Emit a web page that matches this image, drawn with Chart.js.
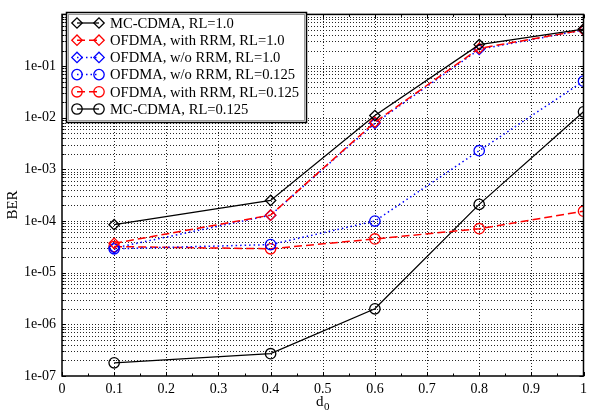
<!DOCTYPE html>
<html><head><meta charset="utf-8">
<script src="https://cdn.jsdelivr.net/npm/chart.js@4.4.1/dist/chart.umd.min.js"></script>
<style>html,body{margin:0;padding:0;background:#fff}</style>
</head><body>
<canvas id="c" width="592" height="412" style="width:592px;height:412px;display:block"></canvas>
<script>
// ---- data ----
const xValues = [0.1, 0.4, 0.6, 0.8, 1.0];
const mcCdmaRL1 = [8.5e-5, 2.5e-4, 1.1e-2, 0.26, 0.52];
const ofdmaRrmRL1 = [3.7e-5, 1.3e-4, 8.2e-3, 0.22, 0.5];
const ofdmaNoRrmRL1 = [3.0e-5, 1.3e-4, 7.8e-3, 0.21, 0.5];
const ofdmaNoRrmRL0125 = [2.9e-5, 3.5e-5, 1.0e-4, 2.3e-3, 0.051];
const ofdmaRrmRL0125 = [3.2e-5, 2.9e-5, 4.5e-5, 7.1e-5, 1.55e-4];
const mcCdmaRL0125 = [1.8e-7, 2.7e-7, 2.0e-6, 2.1e-4, 1.3e-2];
const seriesLabels = ['MC-CDMA, RL=1.0', 'OFDMA, with RRM, RL=1.0', 'OFDMA, w/o RRM, RL=1.0',
  'OFDMA, w/o RRM, RL=0.125', 'OFDMA, with RRM, RL=0.125', 'MC-CDMA, RL=0.125'];
const xTickLabels = ['0', '0.1', '0.2', '0.3', '0.4', '0.5', '0.6', '0.7', '0.8', '0.9', '1'];
const yTickLabels = ['1e-07', '1e-06', '1e-05', '1e-04', '1e-03', '1e-02', '1e-01'];
const xAxisTitle = 'd';
const xAxisSub = '0';
const yAxisTitle = 'BER';

const FONT = '"Liberation Serif", "Times New Roman", serif';

const styles = [
  {color: '#000000', dash: [], point: 'rectRot', width: 1.3},
  {color: '#ff0000', dash: [8, 4], point: 'rectRot', width: 1.5},
  {color: '#0000ff', dash: [1.5, 3], point: 'rectRot', width: 1.5},
  {color: '#0000ff', dash: [1.5, 3], point: 'circle', width: 1.5},
  {color: '#ff0000', dash: [8, 4], point: 'circle', width: 1.5},
  {color: '#000000', dash: [], point: 'circle', width: 1.3}
];
const seriesData = [mcCdmaRL1, ofdmaRrmRL1, ofdmaNoRrmRL1, ofdmaNoRrmRL0125, ofdmaRrmRL0125, mcCdmaRL0125];

const datasets = seriesData.map((vals, i) => ({
  label: seriesLabels[i],
  data: vals.map((v, j) => ({x: xValues[j], y: v})),
  borderColor: styles[i].color,
  borderWidth: styles[i].width,
  borderDash: styles[i].dash,
  pointStyle: styles[i].point,
  pointRadius: 5.2,
  pointBorderColor: styles[i].color,
  pointBackgroundColor: 'rgba(0,0,0,0)',
  pointBorderWidth: 1.3,
  fill: false,
  tension: 0
}));

// log ticks: decades 1e-7 .. 1e0 with minors 2..9
const yTickValues = [];
for (let e = -7; e <= 0; e++) {
  for (let m = 1; m <= 9; m++) {
    if (e === 0 && m > 1) break;
    yTickValues.push(m * Math.pow(10, e));
  }
}
const xTickValues = [];
for (let i = 0; i <= 20; i++) xTickValues.push(+(i * 0.05).toFixed(2));

function isMajorX(v) { return Math.abs(v * 10 - Math.round(v * 10)) < 1e-6; }
function isDecade(v) { const l = Math.log10(v); return Math.abs(l - Math.round(l)) < 1e-6; }

const decor = {
  id: 'decor',
  beforeDatasetsDraw(chart) {
    const ctx = chart.ctx, a = chart.chartArea;
    const xs = chart.scales.x, ys = chart.scales.y;
    ctx.save();
    ctx.lineWidth = 1;
    ctx.strokeStyle = 'rgba(0,0,0,0.85)';
    ctx.setLineDash([1, 2]);
    ctx.beginPath();
    xTickValues.forEach(v => {
      if (!isMajorX(v) || v === 0 || v === 1) return;
      const px = Math.round(xs.getPixelForValue(v)) + 0.5;
      ctx.moveTo(px, a.bottom); ctx.lineTo(px, a.top);
    });
    ctx.stroke();
    ctx.beginPath();
    yTickValues.forEach(v => {
      const py = Math.round(ys.getPixelForValue(v)) + 0.5;
      if (py <= a.top + 1 || py >= a.bottom - 1) return;
      ctx.moveTo(a.left, py); ctx.lineTo(a.right, py);
    });
    ctx.stroke();
    ctx.restore();
  },
  afterDatasetsDraw(chart) {
    const ctx = chart.ctx, a = chart.chartArea;
    const xs = chart.scales.x, ys = chart.scales.y;
    ctx.save();
    // inward tick marks
    ctx.strokeStyle = '#000'; ctx.lineWidth = 1; ctx.setLineDash([]);
    ctx.beginPath();
    xTickValues.forEach(v => {
      const px = Math.round(xs.getPixelForValue(v)) + 0.5;
      const len = isMajorX(v) ? 4 : 2.5;
      ctx.moveTo(px, a.bottom); ctx.lineTo(px, a.bottom - len);
      ctx.moveTo(px, a.top); ctx.lineTo(px, a.top + len);
    });
    yTickValues.forEach(v => {
      const py = Math.round(ys.getPixelForValue(v)) + 0.5;
      const len = isDecade(v) ? 4 : 2.5;
      ctx.moveTo(a.left, py); ctx.lineTo(a.left + len, py);
      ctx.moveTo(a.right, py); ctx.lineTo(a.right - len, py);
    });
    ctx.stroke();
    // frame
    ctx.lineWidth = 1.5;
    ctx.strokeRect(a.left, a.top, a.right - a.left, a.bottom - a.top);

    // legend
    const lx = 66, ly = 12, lw = 240, lh = 110;
    ctx.fillStyle = '#fff';
    ctx.fillRect(lx, ly, lw, lh);
    ctx.lineWidth = 1.5; ctx.strokeStyle = '#000';
    ctx.strokeRect(lx + 0.5, ly + 0.5, lw, lh);
    ctx.lineWidth = 1; ctx.strokeStyle = '#999';
    ctx.strokeRect(lx + 2.5, ly + 2.5, lw - 4, lh - 4);
    ctx.font = '14.6px ' + FONT;
    ctx.textBaseline = 'middle';
    ctx.textAlign = 'left';
    chart.data.datasets.forEach((ds, i) => {
      const y = 23 + i * 17.2;
      ctx.strokeStyle = ds.borderColor;
      ctx.lineWidth = ds.borderWidth;
      ctx.setLineDash(ds.borderDash);
      ctx.beginPath(); ctx.moveTo(77, y); ctx.lineTo(99, y); ctx.stroke();
      ctx.setLineDash([]);
      ctx.lineWidth = 1.3;
      ctx.fillStyle = 'rgba(0,0,0,0)';
      ctx.strokeStyle = ds.borderColor;
      [77, 99].forEach(px => {
        Chart.helpers.drawPoint(ctx, {pointStyle: ds.pointStyle, radius: 5.2, rotation: 0, borderWidth: 1.3}, px, y);
      });
      ctx.fillStyle = '#000';
      ctx.fillText(ds.label, 110, y + 1);
    });

    // axis titles
    ctx.fillStyle = '#000';
    ctx.font = '15px ' + FONT;
    ctx.textAlign = 'center';
    ctx.textBaseline = 'middle';
    const cx = (a.left + a.right) / 2;
    ctx.fillText(xAxisTitle, cx - 3, 402);
    ctx.font = '11px ' + FONT;
    ctx.fillText(xAxisSub, cx + 4, 407);
    ctx.font = '15px ' + FONT;
    ctx.translate(13, 205);
    ctx.rotate(-Math.PI / 2);
    ctx.fillText(yAxisTitle, 0, 0);
    ctx.restore();
  }
};

new Chart(document.getElementById('c'), {
  type: 'line',
  data: {datasets},
  plugins: [decor],
  options: {
    responsive: false,
    animation: false,
    devicePixelRatio: 1,
    layout: {padding: {left: 0, right: 3, top: 7, bottom: 0}},
    plugins: {legend: {display: false}, tooltip: {enabled: false}},
    scales: {
      x: {
        type: 'linear', min: 0, max: 1,
        afterBuildTicks: s => { s.ticks = xTickValues.map(v => ({value: v})); },
        afterFit: s => { s.height = 36; },
        ticks: {
          autoSkip: false, maxRotation: 0, padding: 5, color: '#000',
          font: {family: FONT, size: 14},
          callback: v => isMajorX(v) ? xTickLabels[Math.round(v * 10)] : ''
        },
        grid: {display: false, drawTicks: false},
        border: {display: false}
      },
      y: {
        type: 'logarithmic', min: 1e-7, max: 1,
        afterBuildTicks: s => { s.ticks = yTickValues.map(v => ({value: v})); },
        afterFit: s => { s.width = 62; },
        ticks: {
          autoSkip: false, padding: 6, color: '#000',
          font: {family: FONT, size: 14},
          callback: v => {
            if (!isDecade(v)) return '';
            const e = Math.round(Math.log10(v));
            return e < 0 ? yTickLabels[e + 7] : '';
          }
        },
        grid: {display: false, drawTicks: false},
        border: {display: false}
      }
    }
  }
});
</script>
</body></html>
